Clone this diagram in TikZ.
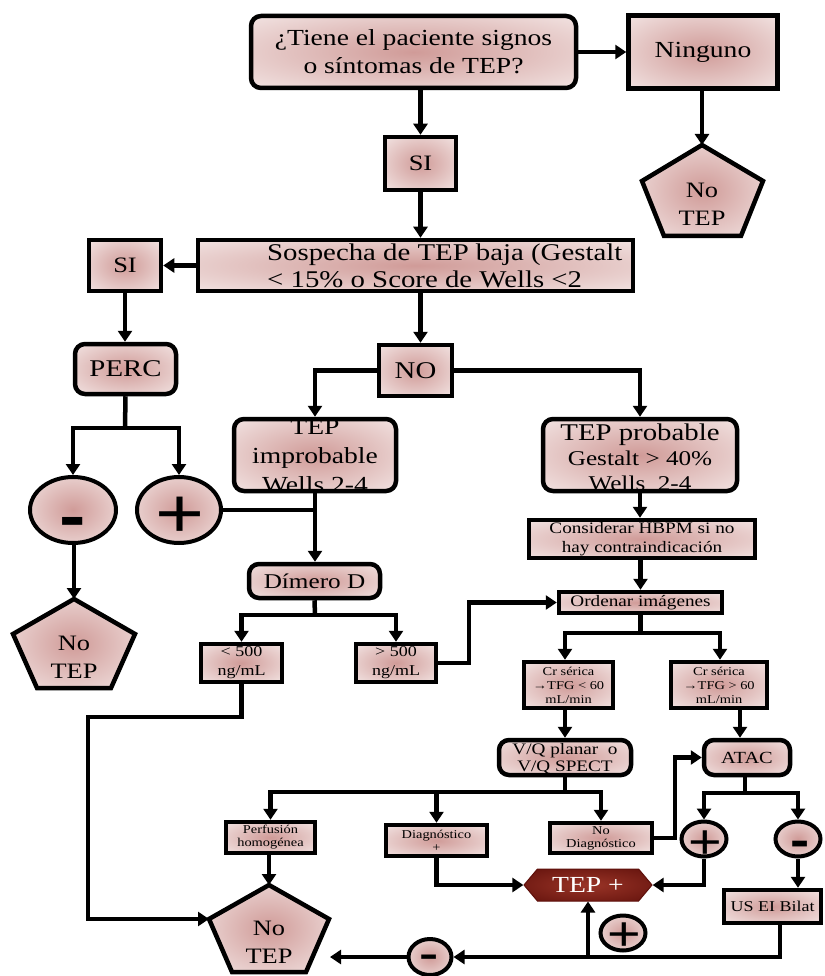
\documentclass[tikz,border=0pt]{standalone}
\usepackage{fontspec}
\setmainfont{Liberation Serif}[FakeStretch=1.2]
\newfontfamily\symf{Liberation Sans}[FakeStretch=1.2]
\newfontfamily\symw{Liberation Sans}[FakeStretch=1.6]
\usetikzlibrary{arrows.meta,shapes.geometric,shapes.symbols}
\definecolor{rin}{HTML}{D09B98}
\definecolor{rout}{HTML}{F6ECEB}
\definecolor{din}{HTML}{9A3427}
\definecolor{dout}{HTML}{5E0F0A}
\pgfdeclareradialshading{rosy}{\pgfpoint{0bp}{0bp}}{color(0bp)=(rin); color(40bp)=(rout); color(50bp)=(rout)}
\pgfdeclareradialshading{darkred}{\pgfpoint{0bp}{0bp}}{color(0bp)=(din); color(40bp)=(dout); color(50bp)=(dout)}
\begin{document}
\begin{tikzpicture}[x=1pt,y=-1pt,
  bx/.style={draw=black, line width=4.5pt, shade, shading=rosy, inner sep=0pt, align=center, line join=miter},
  rbx/.style={bx, rounded corners=10pt},
  el/.style={ellipse, draw=black, line width=4pt, shade, shading=rosy, inner sep=0pt},
  pent/.style={draw=black, line width=4.5pt, shade, shading=rosy, line join=miter},
  lab/.style={inner sep=0pt, align=center},
  ar/.style={line width=4.5pt, line join=miter, -{Triangle[length=11pt,width=14pt]}},
  ln/.style={line width=4.5pt, line join=miter}]
\useasboundingbox[fill=white] (0,0) rectangle (824,976);

% ---------- nodes ----------
\node[rbx, minimum width=325pt, minimum height=72pt, font=\fontsize{23pt}{28pt}\selectfont] (q) at (413.5,52) {¿Tiene el paciente signos\\o síntomas de TEP?};
\node[bx, minimum width=149pt, minimum height=73pt, font=\fontsize{23pt}{27pt}\selectfont] (ning) at (703,52) {Ninguno};
\node[bx, minimum width=71pt, minimum height=53pt, font=\fontsize{22pt}{26pt}\selectfont] (si1) at (420.5,163.5) {SI};
\node[bx, minimum width=435pt, minimum height=51pt] (sosp) at (415.5,265.5) {};
\node[lab, anchor=west, align=left, font=\fontsize{24pt}{27pt}\selectfont] (sospt) at (267,266) {Sospecha de TEP baja (Gestalt\\< 15\% o Score de Wells <2};
\node[bx, minimum width=72pt, minimum height=51pt, font=\fontsize{22pt}{26pt}\selectfont] (si2) at (125,265.5) {SI};
\node[rbx, minimum width=101pt, minimum height=50pt, font=\fontsize{24pt}{28pt}\selectfont] (perc) at (125.5,369) {PERC};
\node[bx, minimum width=73pt, minimum height=51pt, font=\fontsize{24pt}{28pt}\selectfont] (no) at (415.5,370.5) {NO};
\node[rbx, minimum width=162pt, minimum height=72pt] (timp) at (315,455) {};
\node[lab, font=\fontsize{23pt}{29pt}\selectfont] (timpt) at (315,456) {TEP\\improbable\\Wells 2-4};
\node[rbx, minimum width=194pt, minimum height=72pt] (tprob) at (640,455) {};
\node[lab, font=\fontsize{21pt}{25pt}\selectfont] (tprobt) at (640,457) {{\fontsize{24pt}{25pt}\selectfont TEP probable}\\Gestalt > 40\%\\Wells~~2-4};

\node[el, minimum width=86pt, minimum height=66pt] (minus1) at (73,510) {};
\node[lab, anchor=base, font=\symf\bfseries\fontsize{66pt}{66pt}\selectfont] (minus1t) at (73,538) {-};
\node[el, minimum width=84pt, minimum height=66pt] (plus1) at (179,510) {};
\node[lab, anchor=base, font=\symf\fontsize{70pt}{70pt}\selectfont] (plus1t) at (180,537) {+};

\coordinate (p1t) at (74,599); \coordinate (p1r) at (135,634); \coordinate (p1br) at (111,688);
\coordinate (p1bl) at (37,688); \coordinate (p1l) at (13,634);
\path[pent] (p1t) -- (p1r) -- (p1br) -- (p1bl) -- (p1l) -- cycle;
\node[lab, font=\fontsize{22pt}{28pt}\selectfont] (p1txt) at (74,657) {No\\TEP};

\coordinate (p2t) at (702,145); \coordinate (p2r) at (763,181); \coordinate (p2br) at (741,236);
\coordinate (p2bl) at (664,236); \coordinate (p2l) at (642,181);
\path[pent] (p2t) -- (p2r) -- (p2br) -- (p2bl) -- (p2l) -- cycle;
\node[lab, font=\fontsize{22pt}{28pt}\selectfont] (p2txt) at (702,204) {No\\TEP};

\coordinate (p3t) at (269,885); \coordinate (p3r) at (329,919); \coordinate (p3br) at (306,972);
\coordinate (p3bl) at (232,972); \coordinate (p3l) at (209,919);
\path[pent] (p3t) -- (p3r) -- (p3br) -- (p3bl) -- (p3l) -- cycle;
\node[lab, font=\fontsize{22pt}{28pt}\selectfont] (p3txt) at (269,942) {No\\TEP};

\node[rbx, minimum width=131pt, minimum height=34pt, font=\fontsize{21pt}{24pt}\selectfont] (dim) at (314.5,581) {Dímero D};
\node[bx, minimum width=81pt, minimum height=38pt, font=\fontsize{15pt}{19pt}\selectfont] (lt) at (241.5,663) {< 500\\ng/mL};
\node[bx, minimum width=80pt, minimum height=38pt, font=\fontsize{15pt}{19pt}\selectfont] (gt) at (396,663) {> 500\\ng/mL};
\node[bx, minimum width=226pt, minimum height=38pt, font=\fontsize{16pt}{19pt}\selectfont] (cons) at (642,539) {Considerar HBPM si no\\hay contraindicación};
\node[bx, minimum width=163pt, minimum height=21pt, font=\fontsize{16pt}{18pt}\selectfont] (ord) at (640.5,602.5) {Ordenar imágenes};
\node[bx, minimum width=89pt, minimum height=46pt, font=\fontsize{12pt}{14pt}\selectfont] (crl) at (568.5,685) {Cr sérica\\→TFG < 60\\mL/min};
\node[bx, minimum width=96pt, minimum height=46pt, font=\fontsize{12pt}{14pt}\selectfont] (crr) at (719,685) {Cr sérica\\→TFG > 60\\mL/min};
\node[rbx, minimum width=132pt, minimum height=35pt] (vq) at (565,757.5) {};
\node[lab, font=\fontsize{16pt}{17pt}\selectfont] (vqt) at (565,759) {V/Q planar~~o\\V/Q SPECT};
\node[rbx, minimum width=86pt, minimum height=35pt, font=\fontsize{17pt}{18pt}\selectfont] (atac) at (747,757.5) {ATAC};
\node[bx, minimum width=89pt, minimum height=31pt, font=\fontsize{12pt}{13pt}\selectfont] (perf) at (270.5,837.5) {Perfusión\\homogénea};
\node[bx, minimum width=101pt, minimum height=31pt, font=\fontsize{12pt}{13pt}\selectfont] (diag) at (436.5,840.5) {Diagnóstico\\+};
\node[bx, minimum width=102pt, minimum height=30pt, font=\fontsize{12pt}{13pt}\selectfont] (nodg) at (601,838) {No\\Diagnóstico};

\node[el, minimum width=45pt, minimum height=35pt] (plus2) at (704,839) {};
\node[lab, anchor=base, font=\symf\fontsize{48pt}{48pt}\selectfont] (plus2t) at (705,858) {+};
\node[el, minimum width=45pt, minimum height=35pt] (minus2) at (798,839) {};
\node[lab, anchor=base, font=\symf\bfseries\fontsize{48pt}{48pt}\selectfont] (minus2t) at (800,856) {-};

\node[signal, signal to=east and west, signal pointer angle=100, draw=dout, line width=1pt, shade, shading=darkred, minimum width=128pt, minimum height=32pt, inner sep=0pt, text=white, font=\fontsize{23pt}{25pt}\selectfont] (tep) at (588,885) {TEP +};
\node[bx, minimum width=97pt, minimum height=33pt, font=\fontsize{15pt}{18pt}\selectfont] (us) at (772.5,906.5) {US EI Bilat};
\node[el, minimum width=45pt, minimum height=35pt] (plus3) at (623,933) {};
\node[lab, anchor=base, font=\symf\fontsize{48pt}{48pt}\selectfont] (plus3t) at (624.5,950.5) {+};
\node[el, minimum width=43pt, minimum height=36pt] (minus3) at (430,957) {};
\node[lab, anchor=base, font=\symw\bfseries\fontsize{36pt}{36pt}\selectfont] (minus3t) at (429.5,966.5) {-};

% ---------- helper coordinates ----------
\coordinate (b1) at (125,428);
\coordinate (b2) at (315,615);
\coordinate (b3) at (640.5,633);
\coordinate (b4) at (565,792);
\coordinate (b5) at (745,793);
\coordinate (xg) at (469,0);
\coordinate (k1) at (88,717);
\coordinate (xl) at (565,0);
\coordinate (xr) at (720,0);
\coordinate (xa) at (740,0);
\coordinate (xn) at (675,0);
\coordinate (xu) at (780,0);
\coordinate (p3a) at (330,957);

% ---------- connectors ----------
\draw[ar] (q.east) -- (ning.west);
\draw[ar] (p2t |- ning.south) -- (p2t);
\draw[ar] (si1.north |- q.south) -- (si1.north);
\draw[ar] (si1.south) -- (si1.south |- sosp.north);
\draw[ar] (sosp.west) -- (si2.east);
\draw[ar] (si1.south |- sosp.south) -- (si1.south |- no.north);
\draw[ar] (si2.south) -- (si2.south |- perc.north);
\draw[ln] (perc.south) -- (b1);
\draw[ar] (b1) -| (minus1.north);
\draw[ar] (b1) -| (plus1.north);
\draw[ar] (no.west) -| (timp.north);
\draw[ar] (no.east) -| (tprob.north);
\draw[ln] (plus1.east) -- (plus1.east -| timp.south);
\draw[ar] (timp.south) -- (timp.south |- dim.north);
\draw[ar] (p1t |- minus1.south) -- (p1t);
\draw[ln] (dim.south) -- (b2);
\draw[ar] (b2) -| (lt.north);
\draw[ar] (b2) -| (gt.north);
\draw[ar] (gt.east) -- (gt.east -| xg) |- (ord.west);
\draw[ar] (lt.south) |- (k1) |- (p3l);
\draw[ar] (tprob.south) -- (tprob.south |- cons.north);
\draw[ar] (ord.north |- cons.south) -- (ord.north);
\draw[ln] (ord.south) -- (b3);
\draw[ar] (b3) -| (xl |- crl.north);
\draw[ar] (b3) -| (xr |- crr.north);
\draw[ar] (xl |- crl.south) -- (vq.north);
\draw[ar] (xa |- crr.south) -- (xa |- atac.north);
\draw[ln] (vq.south) -- (b4);
\draw[ar] (b4) -| (perf.north);
\draw[ar] (b4) -| (diag.north);
\draw[ar] (b4) -| (nodg.north);
\draw[ar] (nodg.east) -- (nodg.east -| xn) |- (atac.west);
\draw[ln] (atac.south -| b5) -- (b5);
\draw[ar] (b5) -| (plus2.north);
\draw[ar] (b5) -| (minus2.north);
\draw[ar] (diag.south) |- (tep.west);
\draw[ar] (plus2.south) |- (tep.east);
\draw[ar] (minus2.south) -- (minus2.south |- us.north);
\draw[ar] (xu |- us.south) |- (minus3.east);
\draw[ar] (tep.south |- minus3) -- (tep.south);
\draw[ar] (minus3.west) -- (p3a);
\draw[ar] (p3t |- perf.south) -- (p3t);
\end{tikzpicture}
\end{document}
